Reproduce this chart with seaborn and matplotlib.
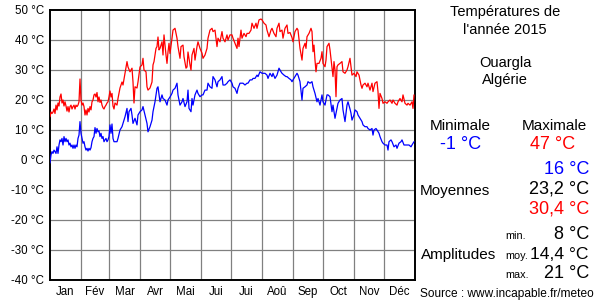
import numpy as np
import pandas as pd
import matplotlib
matplotlib.use("Agg")
import matplotlib.pyplot as plt
import seaborn as sns

# ---------------- data ----------------
months = ["Jan", "Fév", "Mar", "Avr", "Mai", "Jui", "Jui", "Aoû", "Sep", "Oct", "Nov", "Déc"]
month_days = [31, 28, 31, 30, 31, 30, 31, 31, 30, 31, 30, 31]
yticks = [-40, -30, -20, -10, 0, 10, 20, 30, 40, 50]

max_days = [0, 1, 2, 3, 4, 5, 6, 7, 8, 9, 10, 11, 12, 13, 14, 15, 16, 17, 18, 19, 20,
            21, 22, 23, 24, 25, 26, 27, 28, 29, 30, 31, 32, 33, 34, 35, 36, 37, 38, 39, 40,
            41, 42, 43, 44, 45, 46, 47, 48, 49, 50, 51, 52, 53, 54, 55, 56, 57, 58, 59, 60,
            61, 62, 63, 64, 65, 67, 68, 70, 72, 73, 75, 77, 78, 80, 82, 83, 84, 85, 87, 88,
            90, 92, 93, 94, 96, 97, 98, 100, 102, 103, 104, 106, 107, 108, 109, 110, 112, 113,
            114, 116, 117, 118, 119, 120, 121, 122, 123, 125, 127, 128, 130, 131, 133, 134,
            136, 137, 138, 140, 141, 142, 144, 145, 147, 148, 150, 152, 153, 155, 157, 158,
            160, 162, 163, 165, 167, 168, 170, 172, 173, 175, 177, 178, 180, 182, 183, 185,
            187, 188, 189, 191, 192, 194, 196, 197, 199, 201, 202, 204, 206, 207, 209, 211,
            212, 214, 216, 217, 219, 221, 222, 224, 226, 227, 229, 230, 232, 233, 235, 237,
            238, 240, 242, 243, 245, 247, 248, 250, 252, 253, 255, 256, 257, 259, 261, 262,
            263, 264, 265, 266, 267, 269, 271, 272, 273, 275, 276, 277, 279, 280, 282, 283,
            284, 285, 286, 287, 288, 290, 292, 293, 295, 297, 298, 300, 301, 302, 304, 306,
            307, 309, 311, 312, 313, 315, 317, 318, 320, 322, 323, 325, 327, 328, 329, 330,
            332, 333, 335, 337, 338, 340, 342, 343, 345, 347, 348, 350, 352, 353, 355, 357,
            358, 360, 362, 363, 364]
max_vals = [14.4, 16, 15.5, 16, 17, 15.5, 18.3, 16.7, 19, 18, 21, 22, 19, 20, 18, 19.4, 18,
            16.3, 17.8, 16, 17.8, 18.3, 17, 17.8, 18.3, 17, 18.3, 17.8, 18.3, 19.4, 27, 20,
            18.3, 19, 17.8, 15, 16.7, 15, 17.2, 16, 17.8, 16.7, 19.4, 20, 21.7, 22, 21, 22.5,
            19.4, 21, 19.2, 20, 18.3, 17.4, 17, 17.8, 18.3, 19, 19.4, 21, 23, 21, 22.2, 18,
            17, 19, 18.3, 20.5, 24, 26, 25, 29, 32.8, 31, 29.4, 30.6, 26, 19, 24.4, 24, 26,
            31, 31.7, 33.9, 30, 29.4, 24.4, 23.3, 24, 26, 31.7, 32.8, 37.2, 37.8, 41, 36.7,
            37.2, 39.4, 35, 41.7, 35, 32.2, 36, 38.9, 35.5, 38, 40.6, 43.3, 43.9, 40.6, 37.8,
            33.9, 37.8, 38.3, 34.4, 30.6, 31, 36, 31.7, 30, 35, 37.2, 33.3, 37.8, 39.4, 37.2,
            35.6, 33.9, 35, 37.2, 40.6, 43.3, 43.9, 42.8, 43.3, 37.8, 40.6, 39.4, 42.8, 40.6,
            39.4, 41.7, 40, 41.7, 41.7, 40.6, 38.9, 37.2, 40.6, 37.8, 43.3, 40.6, 42.2, 41.1,
            42.2, 42.2, 43.3, 45.6, 43.9, 45.6, 43.9, 46.7, 47, 46.7, 45.6, 45, 43.3, 41.1,
            43.3, 43.9, 42.2, 41.1, 43.9, 45.6, 42.8, 43.3, 40.6, 43.9, 45, 42.2, 42.5, 40.8,
            39.4, 42.8, 43.9, 43.3, 37.2, 33.3, 37.2, 38.9, 37.2, 41.1, 42.2, 43.9, 42.8, 36.1,
            38.3, 33.3, 29.4, 32.2, 32.2, 33.9, 36.1, 32.2, 31.1, 33.3, 37.8, 38.9, 36.7, 30.6,
            27.8, 32.8, 30, 21.1, 31.1, 31.7, 32.2, 32.8, 29.4, 28.9, 30, 31.1, 33.9, 31.1,
            28.3, 28.9, 27.8, 29.4, 28.3, 25, 23.9, 25, 25.6, 24.4, 25.6, 23.3, 25.6, 22.8,
            25.6, 26.1, 22.8, 17.2, 22.2, 20.5, 18.9, 19.4, 18.9, 19.4, 20, 18.9, 20, 18.9,
            18.3, 19.4, 20.5, 19.4, 21.7, 18.9, 18.3, 18.9, 18.3, 19.4, 17.2, 21.7]

min_days = [0, 1, 2, 3, 4, 5, 6, 7, 8, 9, 10, 11, 12, 13, 14, 15, 16, 17, 18, 19, 20,
            21, 22, 23, 24, 25, 26, 27, 28, 29, 30, 31, 32, 33, 34, 35, 36, 37, 38, 39, 40,
            41, 42, 43, 44, 45, 46, 47, 48, 49, 50, 51, 52, 53, 54, 55, 56, 57, 58, 59, 60,
            61, 62, 63, 64, 66, 67, 68, 70, 72, 73, 75, 77, 78, 79, 81, 82, 83, 85, 87, 88,
            90, 92, 93, 95, 97, 98, 100, 102, 103, 105, 107, 108, 110, 112, 113, 115, 117,
            118, 120, 122, 123, 125, 127, 128, 130, 132, 133, 135, 137, 138, 139, 141, 142,
            143, 145, 147, 148, 150, 152, 153, 155, 157, 158, 160, 162, 163, 165, 167, 168,
            170, 172, 173, 175, 177, 178, 180, 182, 183, 185, 187, 188, 190, 192, 193, 195,
            197, 198, 200, 202, 203, 205, 207, 208, 210, 212, 213, 215, 217, 218, 220, 222,
            223, 225, 227, 228, 229, 231, 232, 234, 236, 237, 239, 241, 242, 243, 245, 247,
            248, 250, 252, 253, 255, 257, 258, 260, 262, 263, 265, 267, 268, 270, 272, 273,
            275, 277, 278, 280, 282, 283, 285, 287, 288, 290, 292, 293, 295, 297, 298, 300,
            301, 302, 304, 305, 307, 308, 310, 312, 313, 315, 317, 318, 320, 322, 323, 324,
            326, 327, 329, 330, 332, 333, 335, 337, 338, 339, 341, 342, 344, 346, 347, 349,
            351, 352, 354, 356, 357, 359, 361, 362, 364]
min_vals = [-1, 1.7, 2.8, 2.2, 3.3, 2.8, 2.2, 4.4, 2.2, 5, 6.7, 6.1, 7.2, 5, 7.8, 6.1, 7.2,
            6.1, 6.7, 5, 5.6, 4.4, 5, 3.9, 5, 3.9, 5, 4.4, 7.2, 8.3, 12.8, 8.9, 7.2, 5.6, 6.1,
            4.4, 3.3, 3.9, 3, 3.9, 3.3, 4.1, 6.1, 7.2, 7.8, 10.8, 8.9, 10.5, 9.4, 9.7, 7.8,
            8.9, 7.2, 7.8, 6.1, 6.7, 7.2, 6.1, 6.7, 7.8, 11.7, 8.9, 12, 7.2, 6.1, 6.1, 6.1,
            7.2, 10, 11.1, 12.2, 14.4, 17.2, 12.8, 16.1, 17.2, 15, 12.2, 13.9, 11.7, 15, 16.1,
            16.7, 17.8, 15, 12.2, 9.4, 11.1, 13.3, 16.1, 19.4, 23.9, 24.4, 19.4, 21.7, 20.5,
            20, 18.3, 20, 21, 22.2, 23.3, 23.9, 25.6, 21.7, 18.3, 19.4, 20.5, 17.8, 19.4, 23.3,
            17.2, 16.1, 20.5, 18.3, 21.7, 23.3, 22.2, 21.1, 21.7, 21.7, 23.3, 23.3, 25.6, 24.4,
            23.9, 27.8, 26.7, 24.4, 26.1, 26.7, 27.8, 25, 25, 25.6, 26.1, 26.7, 25.6, 24.4,
            23.9, 22.2, 23.9, 25.6, 25.6, 25.6, 25, 25.6, 25.6, 26.7, 26.7, 27.2, 27.2, 28.3,
            27.8, 29.4, 28.9, 28.9, 28.9, 28.3, 27.2, 28.9, 27.8, 28.9, 27.2, 28.3, 29.4, 30.6,
            29.4, 28.9, 28.3, 27.8, 27.8, 27.2, 26.7, 26.1, 26.7, 27.8, 28.9, 28.3, 26.1, 20,
            23.9, 24.4, 25, 26.1, 25.6, 26.1, 24.4, 22.2, 19.4, 20.5, 18.3, 21.7, 19.4, 18.3,
            21.7, 21.7, 21.1, 16.1, 18.3, 13.9, 17.2, 18.9, 20, 20.5, 16.7, 12.8, 18.3, 19.4,
            17, 15.6, 13.3, 15, 16.7, 16.1, 15, 13.9, 12.8, 11.7, 11.1, 11.1, 10.5, 10, 10.5,
            8.3, 10, 10.5, 10, 8.9, 7.8, 6.1, 5.6, 5, 5, 3.3, 6.1, 6.7, 6.1, 4.4, 5, 3.9, 5.6,
            6.1, 6.7, 5, 5, 5, 5, 4.4, 5, 6.1]

# ---------------- figure ----------------
sns.set_theme(style="white")
plt.rcParams['font.family'] = ['Liberation Sans', 'DejaVu Sans']

W, H = 600, 300
fig = plt.figure(figsize=(6, 3), dpi=100)
fig.patch.set_facecolor("white")
ax = fig.add_axes([50 / W, 20 / H, 365 / W, 270 / H])
ax.set_facecolor("white")

df_max = pd.DataFrame({"day": max_days, "temp": max_vals})
df_min = pd.DataFrame({"day": min_days, "temp": min_vals})
sns.lineplot(data=df_max, x="day", y="temp", color="#ff0000", lw=0.9, ax=ax, zorder=3)
sns.lineplot(data=df_min, x="day", y="temp", color="#0000ff", lw=0.9, ax=ax, zorder=3)

ax.set_xlim(0, 365)
ax.set_ylim(-40, 50)

bounds = np.cumsum(month_days)
for b in bounds[:-1]:
    ax.axvline(b, color="#808080", lw=0.9, zorder=1)
for v in yticks[1:-1]:
    ax.axhline(v, color="#808080", lw=0.9, zorder=1)

ax.set_yticks(yticks)
ax.set_yticklabels([f"{v} °C" for v in yticks])
mids = bounds - np.array(month_days) / 2.0
ax.set_xticks(mids)
ax.set_xticklabels(months)
ax.tick_params(axis="both", length=0, labelsize=8.3, colors="black")
ax.tick_params(axis="y", pad=4.3)
ax.tick_params(axis="x", pad=4.5)
ax.set_xlabel("")
ax.set_ylabel("")
ax.grid(False)
for s in ax.spines.values():
    s.set_color("black")
    s.set_linewidth(1.4)


def t(x, y, s, size, color="black", ha="center"):
    fig.text(x / W, 1 - y / H, s, fontsize=size, color=color, ha=ha, va="baseline")


t(505, 16, "Températures de", 10.5)
t(505, 34.5, "l'année 2015", 10.5)
t(505, 66.5, "Ouargla", 10.5)
t(505, 84, "Algérie", 10.5)

t(460, 130, "Minimale", 11)
t(554, 130, "Maximale", 11)
t(461, 149, "-1 °C", 13, color="#0000ff")
t(553, 149, "47 °C", 13, color="#ff0000")

t(589, 174, "16 °C", 13, color="#0000ff", ha="right")
t(420, 194.5, "Moyennes", 11, ha="left")
t(589, 194, "23,2 °C", 13, ha="right")
t(589, 214, "30,4 °C", 13, color="#ff0000", ha="right")

t(505, 239, "min.", 7.8, ha="left")
t(589, 239, "8 °C", 13, ha="right")
t(421, 259, "Amplitudes", 11, ha="left")
t(505, 259, "moy.", 7.8, ha="left")
t(589, 259, "14,4 °C", 12.6, ha="right")
t(505, 278, "max.", 7.8, ha="left")
t(589, 278, "21 °C", 13, ha="right")

t(420, 297, "Source : www.incapable.fr/meteo", 8.6, ha="left")

fig.savefig("out.png", dpi=100, facecolor="white")
